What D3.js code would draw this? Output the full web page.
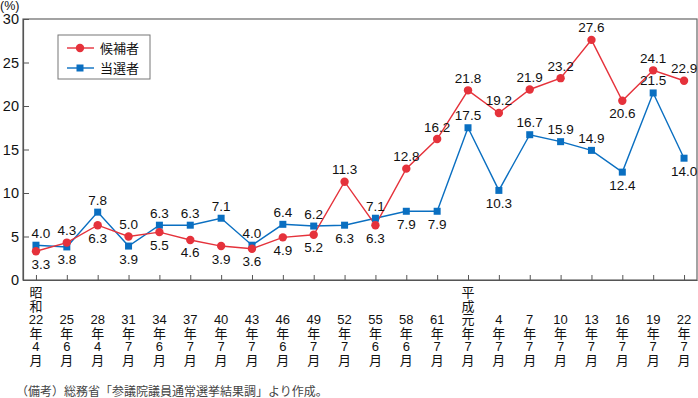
<!DOCTYPE html>
<html>
<head>
<meta charset="utf-8">
<script src="https://cdn.jsdelivr.net/npm/d3@7"></script>
<style>
  html, body { margin: 0; padding: 0; background: #fff; }
  svg { display: block; font-family: "Liberation Sans", "Noto Sans CJK JP", sans-serif; }
</style>
</head>
<body>
<svg id="chart" width="698" height="398"></svg>
<script>
// 参議院議員通常選挙 女性の割合（候補者・当選者）
var elections = [
  "昭和22年4月", "25年6月", "28年4月", "31年7月", "34年6月", "37年7月",
  "40年7月", "43年7月", "46年6月", "49年7月", "52年7月", "55年6月",
  "58年6月", "61年7月", "平成元年7月", "4年7月", "7年7月", "10年7月",
  "13年7月", "16年7月", "19年7月", "22年7月"
];

var candidates = [3.3, 4.3, 6.3, 5.0, 5.5, 4.6, 3.9, 3.6, 4.9, 5.2, 11.3,
  6.3, 12.8, 16.2, 21.8, 19.2, 21.9, 23.2, 27.6, 20.6, 24.1, 22.9];

var elected = [4.0, 3.8, 7.8, 3.9, 6.3, 6.3, 7.1, 4.0, 6.4, 6.2, 6.3,
  7.1, 7.9, 7.9, 17.5, 10.3, 16.7, 15.9, 14.9, 12.4, 21.5, 14.0];

var yTicks = [0, 5, 10, 15, 20, 25, 30];

var seriesNames = ["候補者", "当選者"];

// label above (a) or below (b) the point
var candLabelPos = ["b","a","b","a","b","b","b","b","b","b","a","b","a","a","a","a","a","a","a","b","a","a"];
var electLabelPos = ["a","b","a","b","a","a","a","a","a","a","b","a","b","b","a","b","a","a","a","b","a","b"];

var note = "（備考）総務省「参議院議員通常選挙結果調」より作成。";

var red = "#e5323b",
  blue = "#0a6fc1";

var plot = { left: 23, top: 19, right: 697, bottom: 280 };

var svg = d3.select("#chart");

var x = d3.scalePoint()
  .domain(d3.range(elections.length))
  .range([plot.left, plot.right])
  .padding(0.42);

var y = d3.scaleLinear().domain([0, 30]).range([plot.bottom, plot.top]);

// frame
svg.append("rect")
  .attr("x", plot.left)
  .attr("y", plot.top)
  .attr("width", plot.right - plot.left)
  .attr("height", plot.bottom - plot.top)
  .attr("fill", "none")
  .attr("stroke", "#666")
  .attr("stroke-width", 1.2);

// y axis
var yAxis = d3.axisLeft(y).tickValues(yTicks).tickSizeInner(-6).tickSizeOuter(0).tickPadding(4);
var gy = svg.append("g")
  .attr("transform", "translate(" + plot.left + ",0)")
  .call(yAxis);
gy.select(".domain").attr("stroke", "#555").attr("stroke-width", 1.2);
gy.selectAll(".tick line").attr("stroke", "#555");
gy.selectAll(".tick text")
  .attr("font-size", "14.5px")
  .attr("fill", "#111")
  .attr("font-family", "'Liberation Sans', sans-serif");

svg.append("text")
  .attr("x", 0)
  .attr("y", 10)
  .attr("font-size", "12.5px")
  .attr("fill", "#111")
  .text("(%)");

// x axis
var xAxis = d3.axisBottom(x).tickSizeInner(-5).tickSizeOuter(0).tickFormat("");
var gx = svg.append("g")
  .attr("transform", "translate(0," + plot.bottom + ")")
  .call(xAxis);
gx.select(".domain").attr("stroke", "#555").attr("stroke-width", 1.2);
gx.selectAll(".tick line").attr("stroke", "#555");

// vertical category labels
function splitLabel(s) {
  var m = s.match(/^(\D*?)(\d+|元)年(\d+)月$/);
  var lines = m[1] ? m[1].split("") : [];
  return lines.concat([m[2], "年", m[3], "月"]);
}

var lineH = 13.6;
var lastBase = 365;
elections.forEach(function (e, i) {
  var lines = splitLabel(e);
  var t = svg.append("text")
    .attr("text-anchor", "middle")
    .attr("font-size", "13px")
    .attr("fill", "#111");
  lines.forEach(function (ln, j) {
    t.append("tspan")
      .attr("x", x(i))
      .attr("y", lastBase - (lines.length - 1 - j) * lineH)
      .text(ln);
  });
});

// series
var line = d3.line()
  .x(function (d, i) { return x(i); })
  .y(function (d) { return y(d); });

svg.append("path")
  .datum(elected)
  .attr("d", line)
  .attr("fill", "none")
  .attr("stroke", blue)
  .attr("stroke-width", 1.4);

svg.append("path")
  .datum(candidates)
  .attr("d", line)
  .attr("fill", "none")
  .attr("stroke", red)
  .attr("stroke-width", 1.4);

svg.append("g").selectAll("rect")
  .data(elected)
  .enter()
  .append("rect")
  .attr("x", function (d, i) { return x(i) - 3.5; })
  .attr("y", function (d) { return y(d) - 3.5; })
  .attr("width", 7)
  .attr("height", 7)
  .attr("fill", blue);

svg.append("g").selectAll("circle")
  .data(candidates)
  .enter()
  .append("circle")
  .attr("cx", function (d, i) { return x(i); })
  .attr("cy", function (d) { return y(d); })
  .attr("r", 4.2)
  .attr("fill", red);

// value labels
function addLabels(values, pos) {
  svg.append("g").selectAll("text")
    .data(values)
    .enter()
    .append("text")
    .attr("x", function (d, i) { return x(i) + (i === 0 ? 5 : 0); })
    .attr("y", function (d, i) { return y(d) + (pos[i] === "a" ? -7.5 : 17.5); })
    .attr("text-anchor", "middle")
    .attr("font-size", "13.5px")
    .attr("fill", "#111")
    .text(function (d) { return d3.format(".1f")(d); });
}
addLabels(candidates, candLabelPos);
addLabels(elected, electLabelPos);

// legend
var lg = svg.append("g").attr("transform", "translate(58,35)");
lg.append("rect")
  .attr("width", 92)
  .attr("height", 44)
  .attr("fill", "#fff")
  .attr("stroke", "#777")
  .attr("stroke-width", 1);

seriesNames.forEach(function (name, k) {
  var c = k === 0 ? red : blue;
  var yy = 13 + k * 20;
  lg.append("line")
    .attr("x1", 9).attr("x2", 36)
    .attr("y1", yy).attr("y2", yy)
    .attr("stroke", c)
    .attr("stroke-width", 1.4);
  if (k === 0) {
    lg.append("circle").attr("cx", 22).attr("cy", yy).attr("r", 4.2).attr("fill", c);
  } else {
    lg.append("rect").attr("x", 18.5).attr("y", yy - 3.5).attr("width", 7).attr("height", 7).attr("fill", c);
  }
  lg.append("text")
    .attr("x", 42)
    .attr("y", yy + 4.5)
    .attr("font-size", "13px")
    .attr("fill", "#111")
    .text(name);
});

// source note
svg.append("text")
  .attr("x", 16)
  .attr("y", 396)
  .attr("font-size", "12px")
  .attr("fill", "#444")
  .attr("font-family", "'Noto Sans CJK JP', sans-serif")
  .text(note);
</script>
</body>
</html>
